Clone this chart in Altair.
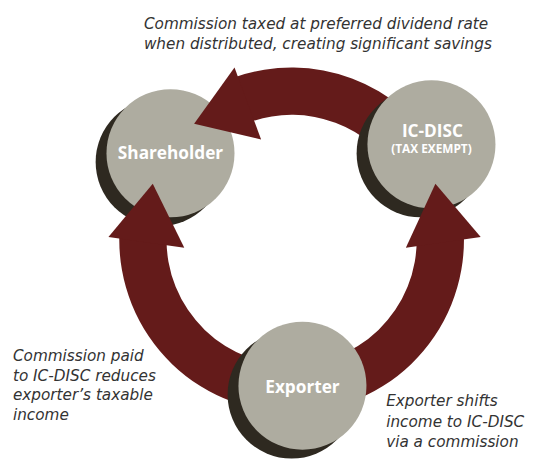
import math
import altair as alt
import pandas as pd

# ---------------- diagram data ----------------
# nodes: circle centres and radius (canvas units, 1 unit = 1 px)
node_names = ["Shareholder", "IC-DISC", "Exporter"]
node_x = [173, 438, 307]
node_y = [152, 143, 388]
node_radius = [65, 65, 65]
shadow_x = [162, 427, 296]
shadow_y = [161, 152, 397]

# labels inside the circles
label_text = ["Shareholder", "IC-DISC", "(TAX EXEMPT)", "Exporter"]
label_x = [173, 439, 438, 307]
label_y = [153, 130, 148, 390]
label_size = [17.5, 17.5, 12, 17.5]

# ring bands (degrees, clockwise from 12 o'clock)
band_name = ["IC-DISC to Shareholder", "Exporter to Shareholder", "Exporter to IC-DISC"]
band_start = [-19, 176, 88]
band_end = [60, 272, 184]
ring_x = [296, 296, 296]
ring_y = [240, 240, 240]
ring_inner = [127, 127, 127]
ring_outer = [175, 175, 175]

# arrowheads (triangle corners)
arrow_name = ["top", "left", "right"]
arrow_xs = [[238, 265, 197], [110, 187, 155], [412, 488, 442]]
arrow_ys = [[65, 138, 122], [237, 248, 183], [248, 237, 183]]

# annotations
ann_lines = [
    ["Commission taxed at preferred dividend rate",
     "when distributed, creating significant savings"],
    ["Commission paid", "to IC-DISC reduces", "exporter\u2019s taxable", "income"],
    ["Exporter shifts", "income to IC-DISC", "via a commission"],
]
ann_x = [146, 13, 392]
ann_y = [21, 358, 404]
ann_step = [20, 19.8, 20.5]

RED = "#641b1a"
GRAY = "#aeaca0"
SHADOW = "#2e2920"
TEXT = "#333333"

# ---------------- tables ----------------
band_df = pd.DataFrame({"name": band_name, "cx": ring_x, "cy": ring_y,
                        "t0": band_start, "t1": band_end,
                        "ro": ring_outer, "ri": ring_inner})
node_df = pd.DataFrame({"name": node_names, "cx": node_x, "cy": node_y,
                        "sx": shadow_x, "sy": shadow_y, "r": node_radius,
                        "t0": [0] * 3, "t1": [360] * 3})
label_df = pd.DataFrame({"text": label_text, "x": label_x, "y": label_y,
                         "size": label_size})

# each arrowhead: a point at the triangle's centroid with its own path shape
tri_rows = []
for name, xs, ys in zip(arrow_name, arrow_xs, arrow_ys):
    gx = sum(xs) / 3.0
    gy = sum(ys) / 3.0
    pts = ["%.2f,%.2f" % (x - gx, y - gy) for x, y in zip(xs, ys)]
    path = "M" + pts[0] + "L" + pts[1] + "L" + pts[2] + "Z"
    tri_rows.append({"arrow": name, "x": gx, "y": gy, "path": path})
tri_df = pd.DataFrame(tri_rows)

ann_rows = []
for i, lines in enumerate(ann_lines):
    for j, line in enumerate(lines):
        ann_rows.append({"text": line, "x": ann_x[i], "y": ann_y[i] + j * ann_step[i]})
ann_df = pd.DataFrame(ann_rows)

# ---------------- scales (1 data unit = 1 px) ----------------
W, H = 526, 452
XS = alt.Scale(domain=[8, 8 + W], nice=False, zero=False)
YS = alt.Scale(domain=[8, 8 + H], nice=False, zero=False, reverse=True)
TS = alt.Scale(domain=[0, 360], range=[0, 2 * math.pi])
RS = alt.Scale(type="linear", domain=[0, 200], range=[0, 200], zero=True)

bands = alt.Chart(band_df).mark_arc(color=RED).encode(
    x=alt.X("cx:Q", scale=XS, axis=None),
    y=alt.Y("cy:Q", scale=YS, axis=None),
    theta=alt.Theta("t0:Q", scale=TS, stack=None),
    theta2="t1:Q",
    radius=alt.Radius("ro:Q", scale=RS),
    radius2="ri:Q",
)

shadows = alt.Chart(node_df).mark_arc(color=SHADOW).encode(
    x=alt.X("sx:Q", scale=XS, axis=None),
    y=alt.Y("sy:Q", scale=YS, axis=None),
    theta=alt.Theta("t0:Q", scale=TS, stack=None),
    theta2="t1:Q",
    radius=alt.Radius("r:Q", scale=RS),
)

circles = alt.Chart(node_df).mark_arc(color=GRAY).encode(
    x=alt.X("cx:Q", scale=XS, axis=None),
    y=alt.Y("cy:Q", scale=YS, axis=None),
    theta=alt.Theta("t0:Q", scale=TS, stack=None),
    theta2="t1:Q",
    radius=alt.Radius("r:Q", scale=RS),
)

arrows = alt.Chart(tri_df).mark_point(
    filled=True, color=RED, opacity=1, strokeWidth=0
).encode(
    x=alt.X("x:Q", scale=XS, axis=None),
    y=alt.Y("y:Q", scale=YS, axis=None),
    shape=alt.Shape("path:N", scale=None, legend=None),
    size=alt.value(4),
)

labels = alt.Chart(label_df).mark_text(
    color="white", fontWeight="bold", font="Open Sans", align="center", baseline="middle"
).encode(
    x=alt.X("x:Q", scale=XS, axis=None),
    y=alt.Y("y:Q", scale=YS, axis=None),
    text="text:N",
    size=alt.Size("size:Q", scale=None, legend=None),
)

notes = alt.Chart(ann_df).mark_text(
    color=TEXT, fontStyle="italic", font="DejaVu Sans", fontSize=15.5,
    align="left", baseline="middle"
).encode(
    x=alt.X("x:Q", scale=XS, axis=None),
    y=alt.Y("y:Q", scale=YS, axis=None),
    text="text:N",
)

chart = alt.layer(bands, shadows, circles, arrows, labels, notes).properties(
    width=W, height=H, padding=0, autosize="none", background="white"
).configure_view(strokeWidth=0)

chart.save("out.html", embed_options={"renderer": "svg", "actions": False})
